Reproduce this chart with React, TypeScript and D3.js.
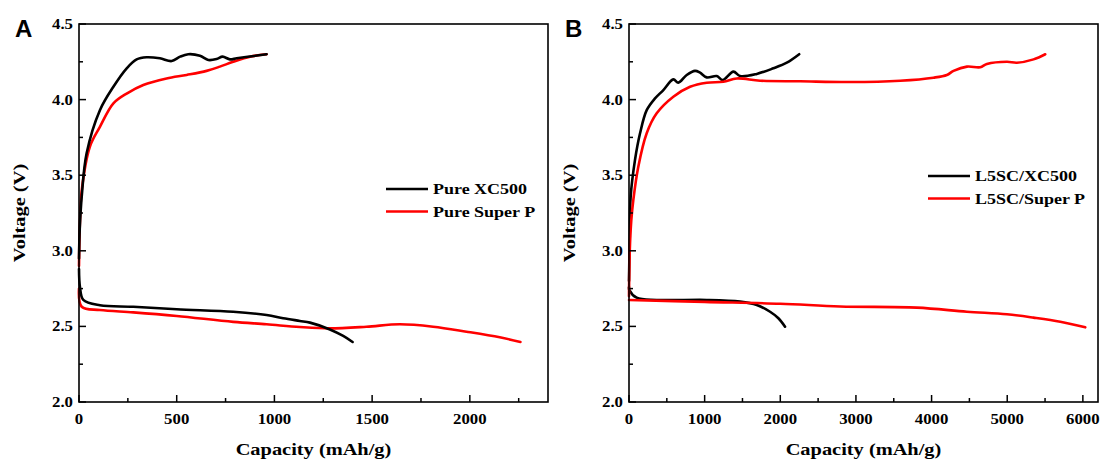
import React from "react";
import * as d3 from "d3";

type Pt = [number, number];

// Panel A
const aXC500Charge: Pt[] = [[0, 2.95], [4, 3.15], [14, 3.36], [39, 3.645], [107, 3.93], [176, 4.085], [244, 4.207], [295, 4.266], [346, 4.28], [414, 4.273], [474, 4.255], [517, 4.284], [559, 4.3], [619, 4.29], [662, 4.262], [704, 4.268], [735, 4.284], [772, 4.266], [807, 4.273], [875, 4.285], [960, 4.3]];
const aSuperPCharge: Pt[] = [[0, 2.9], [5, 3.2], [14, 3.4], [56, 3.69], [107, 3.82], [176, 3.975], [244, 4.04], [329, 4.097], [448, 4.14], [551, 4.163], [653, 4.19], [721, 4.218], [789, 4.25], [875, 4.284], [960, 4.3]];
const aXC500Discharge: Pt[] = [[0, 2.88], [5, 2.76], [22, 2.675], [107, 2.64], [278, 2.63], [500, 2.613], [789, 2.597], [960, 2.575], [1045, 2.554], [1130, 2.536], [1182, 2.525], [1284, 2.48], [1352, 2.437], [1400, 2.397]];
const aSuperPDischarge: Pt[] = [[0, 2.75], [14, 2.63], [107, 2.608], [278, 2.593], [500, 2.569], [789, 2.53], [960, 2.514], [1130, 2.496], [1284, 2.487], [1471, 2.498], [1642, 2.514], [1812, 2.498], [1983, 2.465], [2153, 2.428], [2259, 2.397]];

// Panel B
const bXC500Charge: Pt[] = [[0, 2.8], [10, 3.1], [22, 3.358], [79, 3.6], [146, 3.777], [234, 3.93], [344, 4.008], [454, 4.063], [586, 4.134], [652, 4.112], [763, 4.163], [873, 4.19], [939, 4.178], [1028, 4.147], [1160, 4.156], [1239, 4.13], [1380, 4.185], [1468, 4.156], [1689, 4.17], [1909, 4.207], [2086, 4.244], [2250, 4.3]];
const bSuperPCharge: Pt[] = [[0, 2.7], [10, 3.0], [30, 3.2], [57, 3.336], [123, 3.556], [234, 3.777], [366, 3.909], [586, 4.019], [807, 4.085], [1028, 4.112], [1247, 4.118], [1425, 4.14], [1733, 4.125], [2262, 4.121], [2923, 4.116], [3585, 4.125], [4025, 4.145], [4202, 4.163], [4290, 4.19], [4467, 4.218], [4643, 4.214], [4731, 4.235], [4996, 4.25], [5128, 4.244], [5348, 4.266], [5503, 4.3]];
const bXC500Discharge: Pt[] = [[0, 2.76], [5, 2.74], [101, 2.69], [366, 2.675], [1028, 2.675], [1468, 2.664], [1689, 2.642], [1865, 2.597], [1975, 2.554], [2063, 2.498]];
const bSuperPDischarge: Pt[] = [[0, 2.675], [1000, 2.662], [2000, 2.65], [2791, 2.632], [3805, 2.624], [4467, 2.597], [4996, 2.58], [5348, 2.558], [5701, 2.531], [6032, 2.494]];

const aXTicks = [0, 500, 1000, 1500, 2000];
const aXMinor = [250, 750, 1250, 1750, 2250];
const bXTicks = [0, 1000, 2000, 3000, 4000, 5000, 6000];
const bXMinor = [500, 1500, 2500, 3500, 4500, 5500];
const yTicks = [2.0, 2.5, 3.0, 3.5, 4.0, 4.5];
const yMinor = [2.25, 2.75, 3.25, 3.75, 4.25];

const aLegend = ["Pure XC500", "Pure Super P"];
const bLegend = ["L5SC/XC500", "L5SC/Super P"];

const BLACK = "#000000";
const RED = "#ff0000";
const SERIF = "'Liberation Serif', 'Times New Roman', serif";
const SX = 1.2;

interface PanelProps {
  letter: string;
  left: number;
  right: number;
  xMax: number;
  xTicks: number[];
  xMinor: number[];
  series: { data: Pt[]; color: string }[];
  legend: string[];
  legendX: number;
  legendY: number;
}

function Panel(p: PanelProps) {
  const top = 24;
  const bottom = 402;
  const x = d3.scaleLinear().domain([0, p.xMax]).range([p.left, p.right]);
  const y = d3.scaleLinear().domain([2.0, 4.5]).range([bottom, top]);
  const line = d3
    .line<Pt>()
    .x((d) => x(d[0]))
    .y((d) => y(d[1]))
    .curve(d3.curveCatmullRom.alpha(0.5));
  const cx = (p.left + p.right) / 2;
  return (
    <g>
      <text x={p.left - 64} y={37} fontFamily="'Liberation Sans', Arial, sans-serif" fontWeight="bold" fontSize={24}>
        {p.letter}
      </text>
      {p.series.map((s, i) => (
        <path key={i} d={line(s.data) || ""} fill="none" stroke={s.color} strokeWidth={2.6} strokeLinejoin="round" strokeLinecap="round" />
      ))}
      <rect x={p.left} y={top} width={p.right - p.left} height={bottom - top} fill="none" stroke="#000" strokeWidth={1.6} />
      {p.xTicks.map((t) => (
        <g key={"xt" + t}>
          <line x1={x(t)} x2={x(t)} y1={bottom} y2={bottom - 7} stroke="#000" strokeWidth={1.5} />
          <text transform={`translate(${x(t)},${bottom + 22}) scale(${SX},1)`} textAnchor="middle" fontFamily={SERIF} fontWeight="bold" fontSize={14}>
            {t}
          </text>
        </g>
      ))}
      {p.xMinor.map((t) => (
        <line key={"xm" + t} x1={x(t)} x2={x(t)} y1={bottom} y2={bottom - 4} stroke="#000" strokeWidth={1.5} />
      ))}
      {yTicks.map((t) => (
        <g key={"yt" + t}>
          <line x1={p.left} x2={p.left + 7} y1={y(t)} y2={y(t)} stroke="#000" strokeWidth={1.5} />
          <text transform={`translate(${p.left - 6},${y(t) + 5}) scale(${SX},1)`} textAnchor="end" fontFamily={SERIF} fontWeight="bold" fontSize={14}>
            {t.toFixed(1)}
          </text>
        </g>
      ))}
      {yMinor.map((t) => (
        <line key={"ym" + t} x1={p.left} x2={p.left + 4} y1={y(t)} y2={y(t)} stroke="#000" strokeWidth={1.5} />
      ))}
      <text transform={`translate(${cx},${455}) scale(${SX},1)`} textAnchor="middle" fontFamily={SERIF} fontWeight="bold" fontSize={17}>
        Capacity (mAh/g)
      </text>
      <text transform={`translate(${p.left - 54},${(top + bottom) / 2}) rotate(-90) scale(${SX},1)`} textAnchor="middle" fontFamily={SERIF} fontWeight="bold" fontSize={17}>
        Voltage (V)
      </text>
      {p.legend.map((l, i) => (
        <g key={l}>
          <line x1={p.legendX} x2={p.legendX + 42} y1={p.legendY + i * 22.5} y2={p.legendY + i * 22.5} stroke={i === 0 ? BLACK : RED} strokeWidth={2.6} />
          <text transform={`translate(${p.legendX + 47},${p.legendY + i * 22.5 + 5}) scale(${SX},1)`} fontFamily={SERIF} fontWeight="bold" fontSize={15}>
            {l}
          </text>
        </g>
      ))}
    </g>
  );
}

export default function App() {
  return (
    <svg width={1102} height={461} style={{ position: "absolute", left: 0, top: 0, background: "#fff" }}>
      <rect width={1102} height={461} fill="#fff" />
      <Panel
        letter="A"
        left={79}
        right={548}
        xMax={2400}
        xTicks={aXTicks}
        xMinor={aXMinor}
        series={[
          { data: aSuperPDischarge, color: RED },
          { data: aSuperPCharge, color: RED },
          { data: aXC500Discharge, color: BLACK },
          { data: aXC500Charge, color: BLACK },
        ]}
        legend={aLegend}
        legendX={386}
        legendY={189}
      />
      <Panel
        letter="B"
        left={629}
        right={1098}
        xMax={6200}
        xTicks={bXTicks}
        xMinor={bXMinor}
        series={[
          { data: bXC500Discharge, color: BLACK },
          { data: bXC500Charge, color: BLACK },
          { data: bSuperPDischarge, color: RED },
          { data: bSuperPCharge, color: RED },
        ]}
        legend={bLegend}
        legendX={928}
        legendY={176}
      />
    </svg>
  );
}
